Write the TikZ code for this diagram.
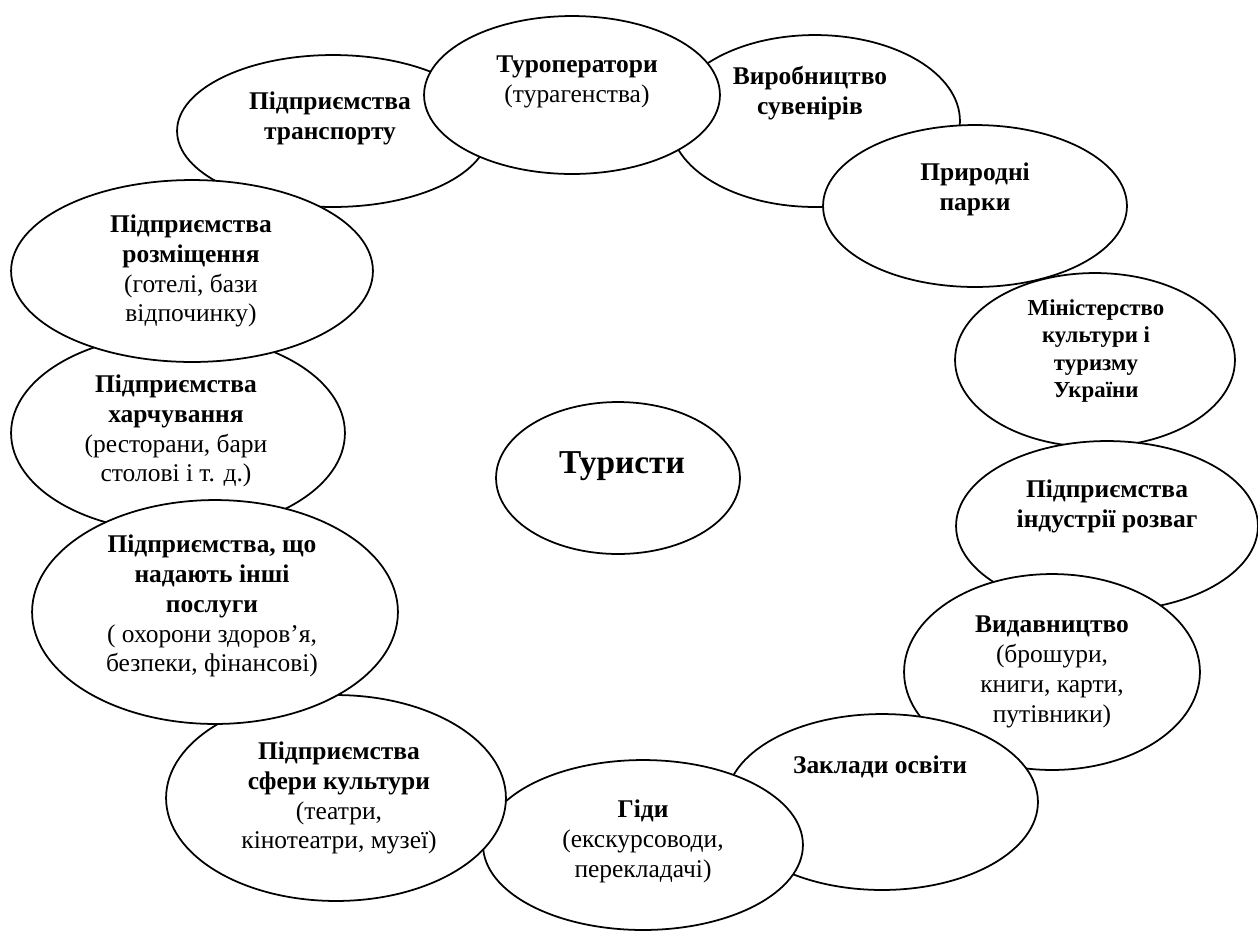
\documentclass[tikz,border=0pt]{standalone}
\usepackage{fontspec}
\setmainfont{Liberation Serif}
\usetikzlibrary{shapes.geometric}
\begin{document}
\begin{tikzpicture}[x=0.02cm,y=-0.02cm,
  bub/.style 2 args={ellipse, draw=black, line width=1pt, fill=white, inner sep=0pt, outer sep=0pt,
     minimum width=#1*0.04cm, minimum height=#2*0.04cm},
  wtxt/.style={align=center, font=\fontsize{14.5}{17}\selectfont, inner sep=0pt}]
\useasboundingbox (0,0) rectangle (1258,931);
% ellipses, back to front
\node[bub={156}{76}]  (trans) at (333,131) {};
\node[bub={145}{86}]  (suv)   at (815,121) {};
\node[bub={148}{79}]  (tour)  at (572,95) {};
\node[bub={152}{81}]  (park)  at (975,206) {};
\node[bub={140}{87}]  (min)   at (1095,360) {};
\node[bub={151}{85}]  (fun)   at (1107,526) {};
\node[bub={148}{98}]  (pub)   at (1052,672) {};
\node[bub={156}{88}]  (edu)   at (882,802) {};
\node[bub={160}{85}]  (guide) at (643,845) {};
\node[bub={170}{103}] (cult)  at (336,798) {};
\node[bub={167}{99}]  (food)  at (178,433) {};
\node[bub={183}{112}] (other) at (215,612) {};
\node[bub={181}{91}]  (acc)   at (192,271) {};
\node[bub={122}{76}]  (tur)   at (618,478) {};
% texts
\node[wtxt] (trans-t) at (330,118) {\bfseries Підприємства\\\bfseries транспорту};
\node[wtxt] (tour-t) at (577,82) {\bfseries Туроператори\\(турагенства)};
\node[wtxt] (suv-t) at (810,93) {\bfseries Виробництво\\\bfseries сувенірів};
\node[wtxt] (park-t) at (975,189) {\bfseries Природні\\\bfseries парки};
\node[wtxt, font=\fontsize{13}{15.5}\selectfont] (min-t) at (1096,351) {\bfseries Міністерство\\\bfseries культури і\\\bfseries туризму\\\bfseries України};
\node[wtxt] (fun-t) at (1107,506) {\bfseries Підприємства\\\bfseries індустрії розваг};
\node[wtxt] (pub-t) at (1052,672) {\bfseries Видавництво\\(брошури,\\книги, карти,\\путівники)};
\node[wtxt] (edu-t) at (880,767) {\bfseries Заклади освіти};
\node[wtxt] (guide-t) at (643,841) {\bfseries Гіди\\(екскурсоводи,\\перекладачі)};
\node[wtxt] (cult-t) at (339,798) {\bfseries Підприємства\\\bfseries сфери культури\\(театри,\\кінотеатри, музеї)};
\node[wtxt] (other-t) at (212,606) {\bfseries Підприємства, що\\\bfseries надають інші\\\bfseries послуги\\( охорони здоров’я,\\безпеки, фінансові)};
\node[wtxt] (food-t) at (176,431) {\bfseries Підприємства\\\bfseries харчування\\(ресторани, бари\\столові і т. д.)};
\node[wtxt] (acc-t) at (191,271) {\bfseries Підприємства\\\bfseries розміщення\\(готелі, бази\\відпочинку)};
\node[wtxt, font=\fontsize{19}{22}\selectfont\bfseries] (tur-t) at (622,466) {Туристи};
\end{tikzpicture}
\end{document}
